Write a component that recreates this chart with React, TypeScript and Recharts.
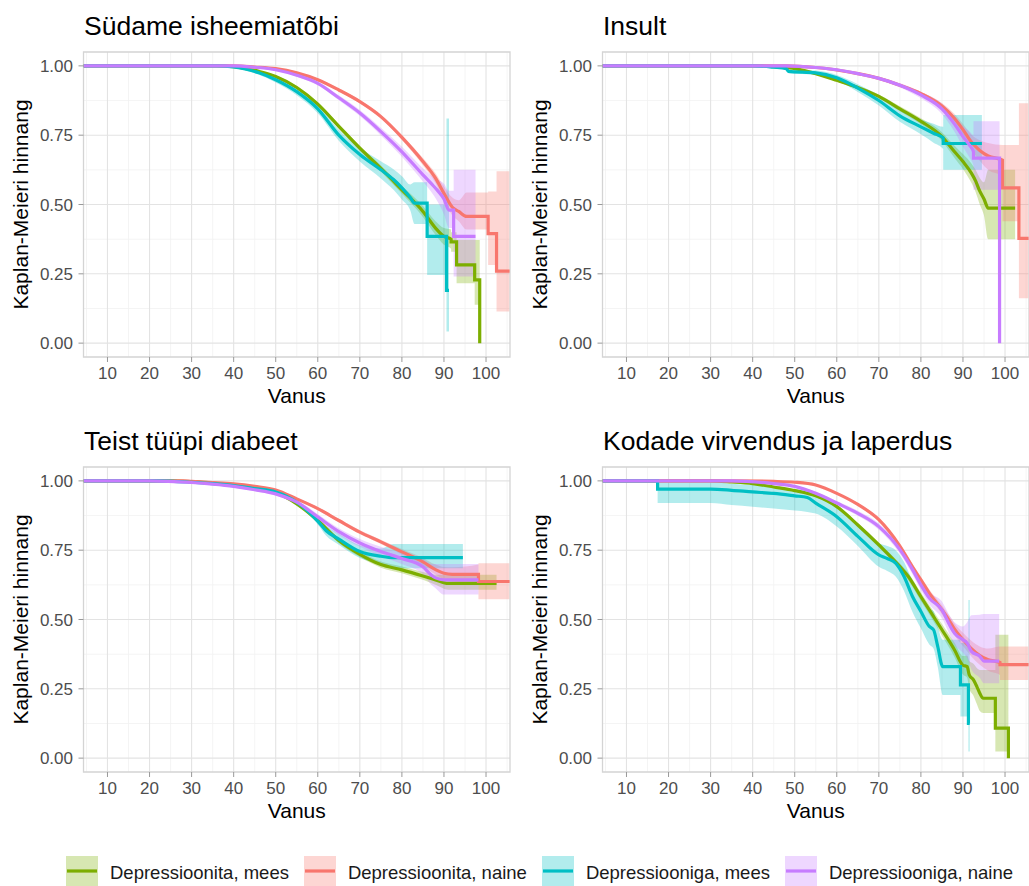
import {
    ComposedChart,
    Area,
    Line,
    XAxis,
    YAxis,
    CartesianGrid,
    ReferenceArea,
} from "recharts";

// [vanus, KM hinnang, alumine piir, ülemine piir]
type KmPoint = [number, number, number, number];

const GROUPS = [
    "Depressioonita, mees",
    "Depressioonita, naine",
    "Depressiooniga, mees",
    "Depressiooniga, naine",
];
const COLORS = ["#7CAE00", "#F8766D", "#00BFC4", "#C77CFF"];

const AGE_TICKS = [10, 20, 30, 40, 50, 60, 70, 80, 90, 100];
const AGE_MINOR = [5, 15, 25, 35, 45, 55, 65, 75, 85, 95, 105];
const KM_TICKS = [0, 0.25, 0.5, 0.75, 1];
const KM_MINOR = [0.125, 0.375, 0.625, 0.875];
const AGE_DOMAIN = [4.3, 105.7];
const KM_DOMAIN = [-0.05, 1.05];

// Südame isheemiatõbi
const ihdNoDepMen: KmPoint[] = [
    [4.3, 1, 1, 1], [36, 1, 1, 1], [40, 0.997, 0.996, 0.998], [43, 0.99, 0.988, 0.992],
    [46, 0.98, 0.977, 0.983], [50, 0.962, 0.958, 0.966], [55, 0.922, 0.917, 0.927],
    [60, 0.862, 0.855, 0.869], [65, 0.782, 0.774, 0.79], [70, 0.703, 0.694, 0.712],
    [75, 0.63, 0.619, 0.641], [80, 0.553, 0.539, 0.567], [85, 0.475, 0.455, 0.495],
    [88, 0.415, 0.39, 0.44], [90, 0.385, 0.355, 0.415], [91.7, 0.375, 0.34, 0.41],
    [91.7, 0.365, 0.33, 0.4], [93, 0.365, 0.33, 0.4], [93, 0.282, 0.216, 0.372],
    [97.3, 0.282, 0.216, 0.372], [97.3, 0.228, 0.138, 0.372], [98.5, 0.228, 0.138, 0.372],
    [98.5, 0, 0, 0],
];
const ihdNoDepWomen: KmPoint[] = [
    [4.3, 1, 1, 1], [40, 1, 1, 1], [45, 0.996, 0.995, 0.997], [50, 0.99, 0.988, 0.992],
    [55, 0.975, 0.972, 0.978], [60, 0.95, 0.946, 0.954], [65, 0.913, 0.908, 0.918],
    [70, 0.871, 0.865, 0.877], [75, 0.817, 0.81, 0.824], [80, 0.742, 0.733, 0.751],
    [85, 0.655, 0.642, 0.668], [88, 0.595, 0.577, 0.613], [90, 0.54, 0.515, 0.565],
    [92, 0.49, 0.46, 0.525], [93.5, 0.475, 0.44, 0.515], [95.4, 0.457, 0.41, 0.543],
    [100.5, 0.457, 0.41, 0.543], [100.5, 0.395, 0.282, 0.547], [102.5, 0.395, 0.282, 0.547],
    [102.5, 0.26, 0.114, 0.62], [105.6, 0.26, 0.114, 0.62],
];
const ihdDepMen: KmPoint[] = [
    [4.3, 1, 1, 1], [36, 1, 1, 1], [40, 0.996, 0.993, 0.999], [43, 0.988, 0.983, 0.993],
    [46, 0.975, 0.968, 0.982], [50, 0.95, 0.94, 0.96], [55, 0.907, 0.894, 0.92],
    [60, 0.845, 0.829, 0.861], [65, 0.75, 0.73, 0.77], [70, 0.68, 0.655, 0.705],
    [75, 0.625, 0.594, 0.656], [78, 0.59, 0.553, 0.627], [80, 0.56, 0.518, 0.602],
    [82, 0.525, 0.478, 0.572], [83, 0.505, 0.43, 0.58], [86, 0.505, 0.43, 0.58],
    [86, 0.385, 0.246, 0.5], [90.6, 0.385, 0.246, 0.5], [90.6, 0.19, 0.042, 0.81],
    [91.2, 0.19, 0.042, 0.81],
];
const ihdDepWomen: KmPoint[] = [
    [4.3, 1, 1, 1], [40, 1, 1, 1], [45, 0.995, 0.993, 0.997], [50, 0.986, 0.983, 0.989],
    [55, 0.966, 0.961, 0.971], [60, 0.937, 0.93, 0.944], [65, 0.885, 0.876, 0.894],
    [70, 0.83, 0.819, 0.841], [75, 0.763, 0.749, 0.777], [80, 0.69, 0.672, 0.708],
    [85, 0.607, 0.583, 0.631], [87, 0.575, 0.545, 0.605], [88.5, 0.55, 0.51, 0.59],
    [90, 0.52, 0.465, 0.575], [91.2, 0.48, 0.415, 0.55], [92.3, 0.48, 0.415, 0.55],
    [92.3, 0.385, 0.24, 0.625], [97.5, 0.385, 0.24, 0.625],
];

// Insult
const strokeNoDepMen: KmPoint[] = [
    [4.3, 1, 1, 1], [42, 1, 1, 1], [46, 0.996, 0.995, 0.997], [50, 0.99, 0.988, 0.992],
    [55, 0.972, 0.968, 0.976], [60, 0.948, 0.943, 0.953], [65, 0.922, 0.916, 0.928],
    [70, 0.89, 0.883, 0.897], [75, 0.845, 0.836, 0.854], [80, 0.8, 0.789, 0.811],
    [85, 0.745, 0.729, 0.761], [88, 0.69, 0.668, 0.712], [90, 0.655, 0.628, 0.682],
    [92, 0.613, 0.578, 0.648], [93, 0.585, 0.545, 0.625], [94, 0.548, 0.5, 0.596],
    [95, 0.52, 0.46, 0.58], [96, 0.487, 0.375, 0.625], [102.4, 0.487, 0.375, 0.625],
];
const strokeNoDepWomen: KmPoint[] = [
    [4.3, 1, 1, 1], [48, 1, 1, 1], [55, 0.994, 0.993, 0.995], [60, 0.985, 0.983, 0.987],
    [65, 0.972, 0.969, 0.975], [70, 0.955, 0.951, 0.959], [75, 0.93, 0.925, 0.935],
    [80, 0.9, 0.893, 0.907], [85, 0.855, 0.844, 0.866], [88, 0.81, 0.794, 0.826],
    [90, 0.77, 0.75, 0.79], [92, 0.725, 0.698, 0.752], [94, 0.695, 0.658, 0.732],
    [96, 0.675, 0.625, 0.722], [99.4, 0.66, 0.6, 0.715], [99.4, 0.56, 0.44, 0.715],
    [103.3, 0.56, 0.44, 0.715], [103.3, 0.378, 0.162, 0.865], [105.6, 0.378, 0.162, 0.865],
];
const strokeDepMen: KmPoint[] = [
    [4.3, 1, 1, 1], [40, 1, 1, 1], [45, 0.995, 0.992, 0.998], [48, 0.99, 0.985, 0.995],
    [48.5, 0.98, 0.973, 0.987], [55, 0.975, 0.967, 0.983], [60, 0.957, 0.947, 0.967],
    [65, 0.92, 0.906, 0.934], [70, 0.875, 0.857, 0.893], [75, 0.82, 0.798, 0.842],
    [80, 0.78, 0.753, 0.807], [83, 0.757, 0.723, 0.791], [85.3, 0.74, 0.7, 0.78],
    [85.3, 0.72, 0.625, 0.823], [94.5, 0.72, 0.625, 0.823],
];
const strokeDepWomen: KmPoint[] = [
    [4.3, 1, 1, 1], [48, 1, 1, 1], [55, 0.994, 0.992, 0.996], [60, 0.986, 0.983, 0.989],
    [65, 0.972, 0.968, 0.976], [70, 0.955, 0.95, 0.96], [75, 0.93, 0.922, 0.938],
    [80, 0.895, 0.883, 0.907], [85, 0.845, 0.826, 0.864], [88, 0.79, 0.762, 0.818],
    [90, 0.745, 0.708, 0.782], [91.5, 0.715, 0.67, 0.765], [92.5, 0.69, 0.64, 0.75],
    [92.5, 0.667, 0.553, 0.8], [98.7, 0.667, 0.553, 0.8], [98.7, 0, 0, 0],
];

// Teist tüüpi diabeet
const t2dNoDepMen: KmPoint[] = [
    [4.3, 1, 1, 1], [25, 1, 1, 1], [30, 0.997, 0.996, 0.998], [35, 0.992, 0.99, 0.994],
    [40, 0.984, 0.982, 0.986], [45, 0.973, 0.97, 0.976], [50, 0.958, 0.955, 0.961],
    [55, 0.917, 0.912, 0.922], [60, 0.857, 0.85, 0.864], [65, 0.785, 0.776, 0.794],
    [70, 0.735, 0.725, 0.745], [75, 0.698, 0.687, 0.709], [80, 0.679, 0.667, 0.691],
    [85, 0.657, 0.643, 0.671], [88, 0.643, 0.625, 0.661], [91, 0.63, 0.607, 0.661],
    [102.5, 0.63, 0.607, 0.661],
];
const t2dNoDepWomen: KmPoint[] = [
    [4.3, 1, 1, 1], [28, 1, 1, 1], [30, 0.998, 0.997, 0.999], [35, 0.994, 0.992, 0.996],
    [40, 0.989, 0.987, 0.991], [45, 0.98, 0.977, 0.983], [50, 0.967, 0.964, 0.97],
    [55, 0.935, 0.931, 0.939], [60, 0.9, 0.895, 0.905], [65, 0.857, 0.851, 0.863],
    [70, 0.815, 0.808, 0.822], [75, 0.78, 0.772, 0.788], [80, 0.744, 0.734, 0.754],
    [85, 0.708, 0.694, 0.722], [88, 0.68, 0.662, 0.698], [90, 0.667, 0.645, 0.689],
    [92, 0.663, 0.638, 0.688], [98.2, 0.663, 0.628, 0.698], [98.2, 0.637, 0.573, 0.703],
    [105.6, 0.637, 0.573, 0.703],
];
const t2dDepMen: KmPoint[] = [
    [4.3, 1, 1, 1], [22, 1, 1, 1], [30, 0.995, 0.993, 0.997], [35, 0.99, 0.987, 0.993],
    [40, 0.983, 0.979, 0.987], [45, 0.972, 0.967, 0.977], [50, 0.96, 0.954, 0.966],
    [55, 0.923, 0.915, 0.931], [60, 0.855, 0.843, 0.867], [62, 0.82, 0.802, 0.838],
    [65, 0.79, 0.77, 0.81], [70, 0.745, 0.722, 0.768], [75, 0.728, 0.7, 0.756],
    [78, 0.723, 0.685, 0.772], [94.5, 0.723, 0.685, 0.772],
];
const t2dDepWomen: KmPoint[] = [
    [4.3, 1, 1, 1], [20, 1, 1, 1], [30, 0.994, 0.992, 0.996], [35, 0.988, 0.985, 0.991],
    [40, 0.98, 0.976, 0.984], [45, 0.968, 0.963, 0.973], [50, 0.953, 0.947, 0.959],
    [55, 0.923, 0.915, 0.931], [60, 0.87, 0.86, 0.88], [65, 0.817, 0.805, 0.829],
    [70, 0.776, 0.762, 0.79], [75, 0.745, 0.728, 0.762], [80, 0.72, 0.7, 0.74],
    [85, 0.69, 0.662, 0.718], [87, 0.66, 0.625, 0.7], [88, 0.65, 0.613, 0.7],
    [90, 0.643, 0.59, 0.7], [98.2, 0.643, 0.59, 0.7],
];

// Kodade virvendus ja laperdus
const afNoDepMen: KmPoint[] = [
    [4.3, 1, 1, 1], [30, 1, 1, 1], [35, 0.996, 0.995, 0.997], [40, 0.99, 0.988, 0.992],
    [45, 0.978, 0.975, 0.981], [50, 0.965, 0.962, 0.968], [55, 0.946, 0.942, 0.95],
    [60, 0.907, 0.902, 0.912], [65, 0.841, 0.834, 0.848], [70, 0.769, 0.76, 0.778],
    [75, 0.691, 0.68, 0.702], [77, 0.655, 0.642, 0.668], [80, 0.582, 0.567, 0.597],
    [82, 0.535, 0.518, 0.552], [85, 0.463, 0.442, 0.484], [88, 0.39, 0.364, 0.416],
    [90, 0.335, 0.302, 0.368], [91, 0.33, 0.29, 0.37], [91.5, 0.3, 0.25, 0.35],
    [92.5, 0.282, 0.225, 0.34], [93.3, 0.258, 0.195, 0.325], [94, 0.234, 0.17, 0.318],
    [94.8, 0.216, 0.163, 0.318], [97.7, 0.216, 0.163, 0.318], [97.7, 0.108, 0.024, 0.445],
    [100.8, 0.108, 0.024, 0.445], [100.8, 0, 0, 0],
];
const afNoDepWomen: KmPoint[] = [
    [4.3, 1, 1, 1], [35, 1, 1, 1], [45, 0.998, 0.997, 0.999], [50, 0.995, 0.994, 0.996],
    [55, 0.985, 0.983, 0.987], [60, 0.955, 0.952, 0.958], [65, 0.915, 0.911, 0.919],
    [70, 0.86, 0.854, 0.866], [75, 0.765, 0.757, 0.773], [78, 0.69, 0.68, 0.7],
    [80, 0.643, 0.632, 0.654], [82, 0.595, 0.582, 0.608], [85, 0.535, 0.519, 0.551],
    [87, 0.49, 0.471, 0.509], [88, 0.465, 0.444, 0.486], [90, 0.428, 0.404, 0.452],
    [92, 0.395, 0.367, 0.423], [94, 0.37, 0.337, 0.403], [96, 0.355, 0.315, 0.395],
    [98.8, 0.345, 0.3, 0.403], [98.8, 0.337, 0.282, 0.403], [105.6, 0.337, 0.282, 0.403],
];
const afDepMen: KmPoint[] = [
    [4.3, 1, 1, 1], [17.4, 1, 1, 1], [17.4, 0.97, 0.92, 0.995], [30, 0.97, 0.92, 0.995],
    [35, 0.966, 0.913, 0.99], [40, 0.96, 0.907, 0.985], [45, 0.955, 0.9, 0.978],
    [50, 0.946, 0.893, 0.97], [53, 0.94, 0.888, 0.965], [55, 0.92, 0.882, 0.955],
    [60, 0.871, 0.835, 0.905], [65, 0.8, 0.765, 0.835], [70, 0.733, 0.69, 0.775],
    [72, 0.72, 0.675, 0.765], [74, 0.703, 0.655, 0.75], [76, 0.655, 0.603, 0.707],
    [78, 0.583, 0.527, 0.64], [80, 0.529, 0.468, 0.59], [82, 0.475, 0.41, 0.54],
    [83, 0.463, 0.395, 0.53], [84, 0.403, 0.33, 0.475], [85.2, 0.33, 0.228, 0.427],
    [89.4, 0.33, 0.228, 0.427], [89.4, 0.264, 0.15, 0.415], [91.3, 0.264, 0.15, 0.415],
    [91.3, 0.125, 0.024, 0.57], [91.6, 0.125, 0.024, 0.57],
];
const afDepWomen: KmPoint[] = [
    [4.3, 1, 1, 1], [35, 1, 1, 1], [45, 0.99, 0.987, 0.993], [50, 0.98, 0.976, 0.984],
    [55, 0.955, 0.95, 0.96], [60, 0.92, 0.913, 0.927], [65, 0.883, 0.874, 0.892],
    [70, 0.835, 0.824, 0.846], [75, 0.752, 0.738, 0.766], [78, 0.68, 0.663, 0.697],
    [80, 0.625, 0.606, 0.644], [82, 0.577, 0.555, 0.599], [85, 0.535, 0.505, 0.565],
    [87, 0.475, 0.44, 0.51], [88, 0.45, 0.41, 0.49], [90, 0.427, 0.38, 0.475],
    [91, 0.415, 0.36, 0.49], [92, 0.385, 0.32, 0.515], [94, 0.367, 0.29, 0.517],
    [95, 0.35, 0.27, 0.52], [98.6, 0.35, 0.27, 0.52],
];

const PANELS = [
    { title: "Südame isheemiatõbi", left: 0, top: 0, series: [ihdNoDepMen, ihdNoDepWomen, ihdDepMen, ihdDepWomen] },
    { title: "Insult", left: 518.5, top: 0, series: [strokeNoDepMen, strokeNoDepWomen, strokeDepMen, strokeDepWomen] },
    { title: "Teist tüüpi diabeet", left: 0, top: 414.7, series: [t2dNoDepMen, t2dNoDepWomen, t2dDepMen, t2dDepWomen] },
    { title: "Kodade virvendus ja laperdus", left: 518.5, top: 414.7, series: [afNoDepMen, afNoDepWomen, afDepMen, afDepWomen] },
];

const FONT = "'Liberation Sans', Arial, Helvetica, sans-serif";

// chart geometry: plot area inside each 515x400 chart
const W = 515;
const H = 400;
const PLOT_LEFT = 83.5;
const PLOT_TOP = 52;
const PLOT_W = 426.5;
const PLOT_H = 305;

function toRows(points: KmPoint[]) {
    return points.map(([x, s, lo, hi]) => ({ x, s, band: [lo, hi] }));
}

function Panel({ title, left, top, series }: { title: string; left: number; top: number; series: KmPoint[][] }) {
    const rows = series.map(toRows);

    return (
        <div style={{ position: "absolute", left, top, width: W, height: H }}>
            <ComposedChart
                width={W}
                height={H}
                margin={{ top: PLOT_TOP, right: W - PLOT_LEFT - PLOT_W, bottom: 0, left: 0 }}
            >
                <CartesianGrid
                    verticalValues={AGE_MINOR}
                    horizontalValues={KM_MINOR}
                    stroke="#f1f1f1"
                    strokeWidth={0.8}
                />
                <CartesianGrid
                    verticalValues={AGE_TICKS}
                    horizontalValues={KM_TICKS}
                    stroke="#e3e3e3"
                    strokeWidth={1.1}
                />

                <XAxis
                    type="number"
                    dataKey="x"
                    domain={AGE_DOMAIN}
                    ticks={AGE_TICKS}
                    interval={0}
                    allowDataOverflow
                    height={H - PLOT_TOP - PLOT_H}
                    axisLine={false}
                    tickSize={5}
                    tickMargin={5}
                    tickLine={{ stroke: "#999999" }}
                    tick={{ fill: "#4d4d4d", fontSize: 17, fontFamily: FONT }}
                />
                <YAxis
                    type="number"
                    domain={KM_DOMAIN}
                    ticks={KM_TICKS}
                    interval={0}
                    allowDataOverflow
                    width={PLOT_LEFT}
                    axisLine={false}
                    tickSize={5}
                    tickMargin={5.5}
                    tickLine={{ stroke: "#999999" }}
                    tick={{ fill: "#4d4d4d", fontSize: 17, fontFamily: FONT }}
                    tickFormatter={(v: number) => v.toFixed(2)}
                />

                {rows.map((data, i) => (
                    <Area
                        key={"band" + i}
                        data={data}
                        dataKey="band"
                        type="monotoneX"
                        fill={COLORS[i]}
                        fillOpacity={0.3}
                        stroke="none"
                        dot={false}
                        activeDot={false}
                        isAnimationActive={false}
                    />
                ))}

                {rows.map((data, i) => (
                    <Line
                        key={"km" + i}
                        data={data}
                        dataKey="s"
                        type="monotoneX"
                        stroke={COLORS[i]}
                        strokeWidth={3.2}
                        dot={false}
                        activeDot={false}
                        isAnimationActive={false}
                    />
                ))}

                <ReferenceArea
                    x1={AGE_DOMAIN[0]}
                    x2={AGE_DOMAIN[1]}
                    y1={KM_DOMAIN[0]}
                    y2={KM_DOMAIN[1]}
                    fill="none"
                    stroke="#d4d4d4"
                    strokeWidth={1.3}
                />
            </ComposedChart>

            <svg
                width={W}
                height={H + 20}
                style={{ position: "absolute", left: 0, top: 0, pointerEvents: "none", overflow: "visible", fontFamily: FONT }}
            >
                <text x={PLOT_LEFT + 0.5} y={PLOT_TOP - 17.4} fontSize={26.5} fill="#000">
                    {title}
                </text>
                <text
                    x={PLOT_LEFT + PLOT_W / 2}
                    y={PLOT_TOP + PLOT_H + 46}
                    fontSize={21}
                    textAnchor="middle"
                    fill="#000"
                >
                    Vanus
                </text>
                <text
                    transform={`translate(28.3, ${PLOT_TOP + PLOT_H / 2}) rotate(-90)`}
                    fontSize={21}
                    textAnchor="middle"
                    fill="#000"
                >
                    Kaplan-Meieri hinnang
                </text>
            </svg>
        </div>
    );
}

export default function App() {
    return (
        <div
            style={{
                position: "absolute",
                left: 0,
                top: 0,
                width: 1029,
                height: 886,
                overflow: "hidden",
                background: "#fff",
                fontFamily: FONT,
            }}
        >
            {PANELS.map((p) => (
                <Panel key={p.title} {...p} />
            ))}

            <div
                style={{
                    position: "absolute",
                    left: 66,
                    top: 856,
                    height: 30,
                    display: "flex",
                    alignItems: "center",
                    fontSize: 18.5,
                    color: "#1a1a1a",
                    whiteSpace: "nowrap",
                }}
            >
                {GROUPS.map((g, i) => (
                    <div key={g} style={{ display: "flex", alignItems: "center" }}>
                        <svg width={32} height={30}>
                            <rect x={0} y={0} width={32} height={30} fill={COLORS[i]} fillOpacity={0.3} />
                            <line x1={1} x2={31} y1={15} y2={15} stroke={COLORS[i]} strokeWidth={3.2} />
                        </svg>
                        <span style={{ marginLeft: 12, marginRight: 15, paddingTop: 3 }}>{g}</span>
                    </div>
                ))}
            </div>
        </div>
    );
}
